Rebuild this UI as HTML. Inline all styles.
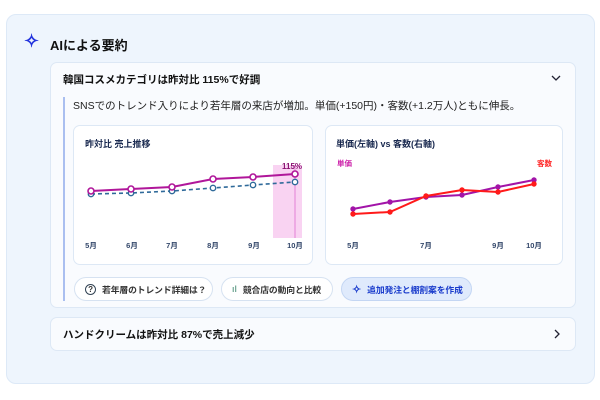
<!DOCTYPE html>
<html><head><meta charset="utf-8"><style>
*{box-sizing:border-box;margin:0;padding:0}
body{width:600px;height:400px;background:#fff;font-family:"Liberation Sans","Noto Sans CJK JP",sans-serif;position:relative;overflow:hidden;color:#111}
.abs{position:absolute}
.panel{left:6px;top:14px;width:589px;height:370px;background:#eef5fd;border:1px solid #dde9f7;border-radius:10px}
.card{background:#f9fbfe;border:1px solid #dde8f5;border-radius:7px}
.btn{top:277px;height:24px;border:1px solid #d6e2f1;border-radius:12px;background:#fff;font-size:8.8px;font-weight:bold;color:#333;display:flex;align-items:center;padding-left:10px;gap:6px;white-space:nowrap;letter-spacing:-0.1px}
</style></head><body>
<div class="abs panel"></div>
<div class="abs" style="left:24px;top:31px;font-size:18px;font-weight:bold;color:#2233dd">✧</div>
<div class="abs" style="left:50px;top:35px;font-size:13px;font-weight:bold">AIによる要約</div>
<div class="abs card" style="left:50px;top:62px;width:526px;height:246px"></div>
<div class="abs" style="left:63px;top:72px;font-size:10.5px;font-weight:bold">韓国コスメカテゴリは昨対比 115%で好調</div>
<svg class="abs" style="left:551px;top:74px" width="10" height="8"><polyline points="1,2 5,6 9,2" fill="none" stroke="#223" stroke-width="1.3"/></svg>
<div class="abs" style="left:63px;top:97px;width:2px;height:204px;background:#aabff0"></div>
<div class="abs" style="left:73px;top:98px;font-size:10.5px;color:#222">SNSでのトレンド入りにより若年層の来店が増加。単価(+150円)・客数(+1.2万人)ともに伸長。</div>
<div class="abs card" style="left:73px;top:125px;width:240px;height:140px;background:#fff"></div>
<div class="abs card" style="left:325px;top:125px;width:238px;height:140px;background:#fff"></div>
<div class="abs" style="left:85px;top:137px;font-size:9px;font-weight:bold;color:#1a2a50">昨対比 売上推移</div>
<div class="abs" style="left:336px;top:137px;font-size:9px;font-weight:bold;color:#1a2a50">単価(左軸) vs 客数(右軸)</div>
<svg class="abs" style="left:0;top:0" width="600" height="400">
<rect x="273" y="165" width="29" height="73" fill="#f7c8ef" opacity="0.8"/>
<line x1="295" y1="165" x2="295" y2="238" stroke="#eeaae4" stroke-width="2"/>
<polyline points="91,194 131,193 172,191 213,188 253,185 295,182" fill="none" stroke="#2f6a9a" stroke-width="1.6" stroke-dasharray="4,3"/>
<g fill="#fff" stroke="#2f6a9a" stroke-width="1.4"><circle cx="91" cy="194" r="2.7"/><circle cx="131" cy="193" r="2.7"/><circle cx="172" cy="191" r="2.7"/><circle cx="213" cy="188" r="2.7"/><circle cx="253" cy="185" r="2.7"/><circle cx="295" cy="182" r="2.7"/></g>
<polyline points="91,191 131,189 172,187 213,179 253,177 295,174" fill="none" stroke="#b0169a" stroke-width="2"/>
<g fill="#fff" stroke="#b0169a" stroke-width="1.6"><circle cx="91" cy="191" r="3"/><circle cx="131" cy="189" r="3"/><circle cx="172" cy="187" r="3"/><circle cx="213" cy="179" r="3"/><circle cx="253" cy="177" r="3"/><circle cx="295" cy="174" r="3"/></g>
<text x="282" y="169" font-size="8" font-weight="bold" fill="#8a1070" font-family="Liberation Sans">115%</text>
<g font-size="7.5" font-weight="bold" fill="#33476a" text-anchor="middle" font-family="Liberation Sans,Noto Sans CJK JP,sans-serif">
<text x="91" y="248">5月</text><text x="132" y="248">6月</text><text x="172" y="248">7月</text><text x="213" y="248">8月</text><text x="254" y="248">9月</text><text x="295" y="248">10月</text>
<text x="353" y="248">5月</text><text x="426" y="248">7月</text><text x="498" y="248">9月</text><text x="534" y="248">10月</text></g>
<text x="337" y="166" font-size="7.5" font-weight="bold" fill="#cc22aa" font-family="Noto Sans CJK JP,sans-serif">単価</text>
<text x="537" y="166" font-size="7.5" font-weight="bold" fill="#ff2a2a" font-family="Noto Sans CJK JP,sans-serif">客数</text>
<polyline points="353,209 390,202 426,197 462,195 498,187 534,180" fill="none" stroke="#a214a8" stroke-width="2"/>
<g fill="#a214a8"><circle cx="353" cy="209" r="2.7"/><circle cx="390" cy="202" r="2.7"/><circle cx="426" cy="197" r="2.7"/><circle cx="462" cy="195" r="2.7"/><circle cx="498" cy="187" r="2.7"/><circle cx="534" cy="180" r="2.7"/></g>
<polyline points="353,214 390,212 426,196 462,190 498,192 534,184" fill="none" stroke="#ff1a1a" stroke-width="2"/>
<g fill="#ff1a1a"><circle cx="353" cy="214" r="2.7"/><circle cx="390" cy="212" r="2.7"/><circle cx="426" cy="196" r="2.7"/><circle cx="462" cy="190" r="2.7"/><circle cx="498" cy="192" r="2.7"/><circle cx="534" cy="184" r="2.7"/></g>
</svg>
<div class="abs btn" style="left:74px;width:139px"><span style="display:inline-block;width:11px;height:11px;border:1px solid #345;border-radius:50%;font-size:8px;text-align:center;line-height:9px;flex:none">?</span>若年層のトレンド詳細は？</div>
<div class="abs btn" style="left:221px;width:112px"><span style="color:#7a9;font-size:9px">ıl</span>競合店の動向と比較</div>
<div class="abs btn" style="left:341px;width:131px;background:#dfeafc;border-color:#c4d6f3;color:#1a3ccc"><span style="font-size:11px">✧</span>追加発注と棚割案を作成</div>
<div class="abs card" style="left:50px;top:317px;width:526px;height:34px"></div>
<div class="abs" style="left:63px;top:327px;font-size:10.5px;font-weight:bold">ハンドクリームは昨対比 87%で売上減少</div>
<svg class="abs" style="left:553px;top:329px" width="8" height="10"><polyline points="2,1 6,5 2,9" fill="none" stroke="#223" stroke-width="1.3"/></svg>
</body></html>
